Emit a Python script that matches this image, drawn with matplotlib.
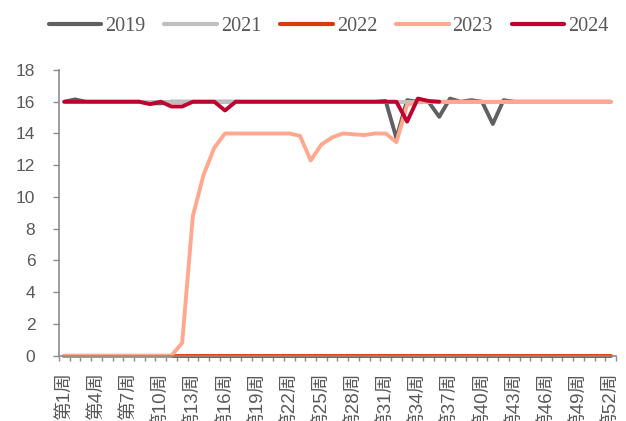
import numpy as np
import matplotlib
matplotlib.use('Agg')
import matplotlib.pyplot as plt

# 周次与各年份数据
weeks = list(range(1, 53))
week_labels = [f"第{w}周" for w in weeks]

y2019 = [16.0, 16.15, 16.0, 16.0, 16.0, 16.0, 16.0, 16.0, 15.9, 15.9,
         16.0, 16.0, 16.0, 16.0, 16.0, 16.0, 16.0, 16.0, 16.0, 16.0,
         16.0, 16.0, 16.0, 16.0, 16.0, 16.0, 16.0, 16.0, 16.0, 16.0,
         16.05, 13.7, 16.1, 16.0, 16.0, 15.05, 16.2, 16.0, 16.1, 16.0,
         14.6, 16.1, 16.0, 16.0, 16.0, 16.0, 16.0, 16.0, 16.0, 16.0,
         16.0, 16.0]
y2021 = [16.0] * 52
y2022 = [0.0] * 52
y2023 = [0, 0, 0, 0, 0, 0, 0, 0, 0, 0,
         0, 0.8, 8.8, 11.4, 13.1, 14.0, 14.0, 14.0, 14.0, 14.0,
         14.0, 14.0, 13.85, 12.3, 13.3, 13.75, 14.0, 13.95, 13.9, 14.0,
         14.0, 13.45, 15.8, 16.0, 16.0, 16.0, 16.0, 16.0, 16.0, 16.0,
         16.0, 16.0, 16.0, 16.0, 16.0, 16.0, 16.0, 16.0, 16.0, 16.0,
         16.0, 16.0]
y2024 = [16.0, 16.0, 16.0, 16.0, 16.0, 16.0, 16.0, 16.0, 15.85, 16.0,
         15.7, 15.7, 16.0, 16.0, 16.0, 15.45, 16.0, 16.0, 16.0, 16.0,
         16.0, 16.0, 16.0, 16.0, 16.0, 16.0, 16.0, 16.0, 16.0, 16.0,
         16.0, 16.0, 14.75, 16.2, 16.05, 16.0] + [np.nan] * 16

series = [
    ('2019', y2019, '#606060'),
    ('2021', y2021, '#BFBFBF'),
    ('2022', y2022, '#D93A0A'),
    ('2023', y2023, '#FFA88F'),
    ('2024', y2024, '#C0002F'),
]

grey = '#595959'
axis_grey = '#8C8C8C'

fig = plt.figure(figsize=(6.26, 4.21), dpi=100)
ax = fig.add_axes([0.0942, 0.1553, 0.8898, 0.6784])

for name, vals, color in series:
    ax.plot(weeks, vals, color=color, linewidth=2.8, label=name,
            solid_capstyle='round', solid_joinstyle='round', clip_on=False)

ax.set_xlim(0.5, 52.5)
ax.set_ylim(0, 18)
ax.set_yticks(range(0, 19, 2))

# 每3周标一个标签，刻度线放在类别之间
ax.set_xticks(weeks[::3])
ax.set_xticklabels(week_labels[::3], rotation=90, va='top', ha='center',
                   fontsize=13.5, color=grey,
                   family=['Liberation Sans', 'Noto Sans CJK SC'])
ax.set_xticks(np.arange(0.5, 53, 1), minor=True)
ax.tick_params(axis='x', which='major', length=0, pad=12)
ax.tick_params(axis='x', which='minor', length=3.8, width=1, color=axis_grey,
               direction='out')

ax.tick_params(axis='y', length=4, width=1, color=axis_grey, pad=13,
               labelsize=12.5, labelcolor=grey)
for lab in ax.get_yticklabels():
    lab.set_family('Liberation Sans')

for side in ['top', 'right']:
    ax.spines[side].set_visible(False)
for side in ['left', 'bottom']:
    ax.spines[side].set_color(axis_grey)
    ax.spines[side].set_linewidth(1.2)

leg = fig.legend(loc='center', bbox_to_anchor=(0.525, 0.938), ncol=5,
                 frameon=False, handlelength=2.6, handletextpad=0.2,
                 columnspacing=0.95,
                 prop={'family': 'Liberation Serif', 'size': 14.5})
for t in leg.get_texts():
    t.set_color(grey)
for h in leg.get_lines():
    h.set_linewidth(3)

fig.savefig('out.png', dpi=100)
